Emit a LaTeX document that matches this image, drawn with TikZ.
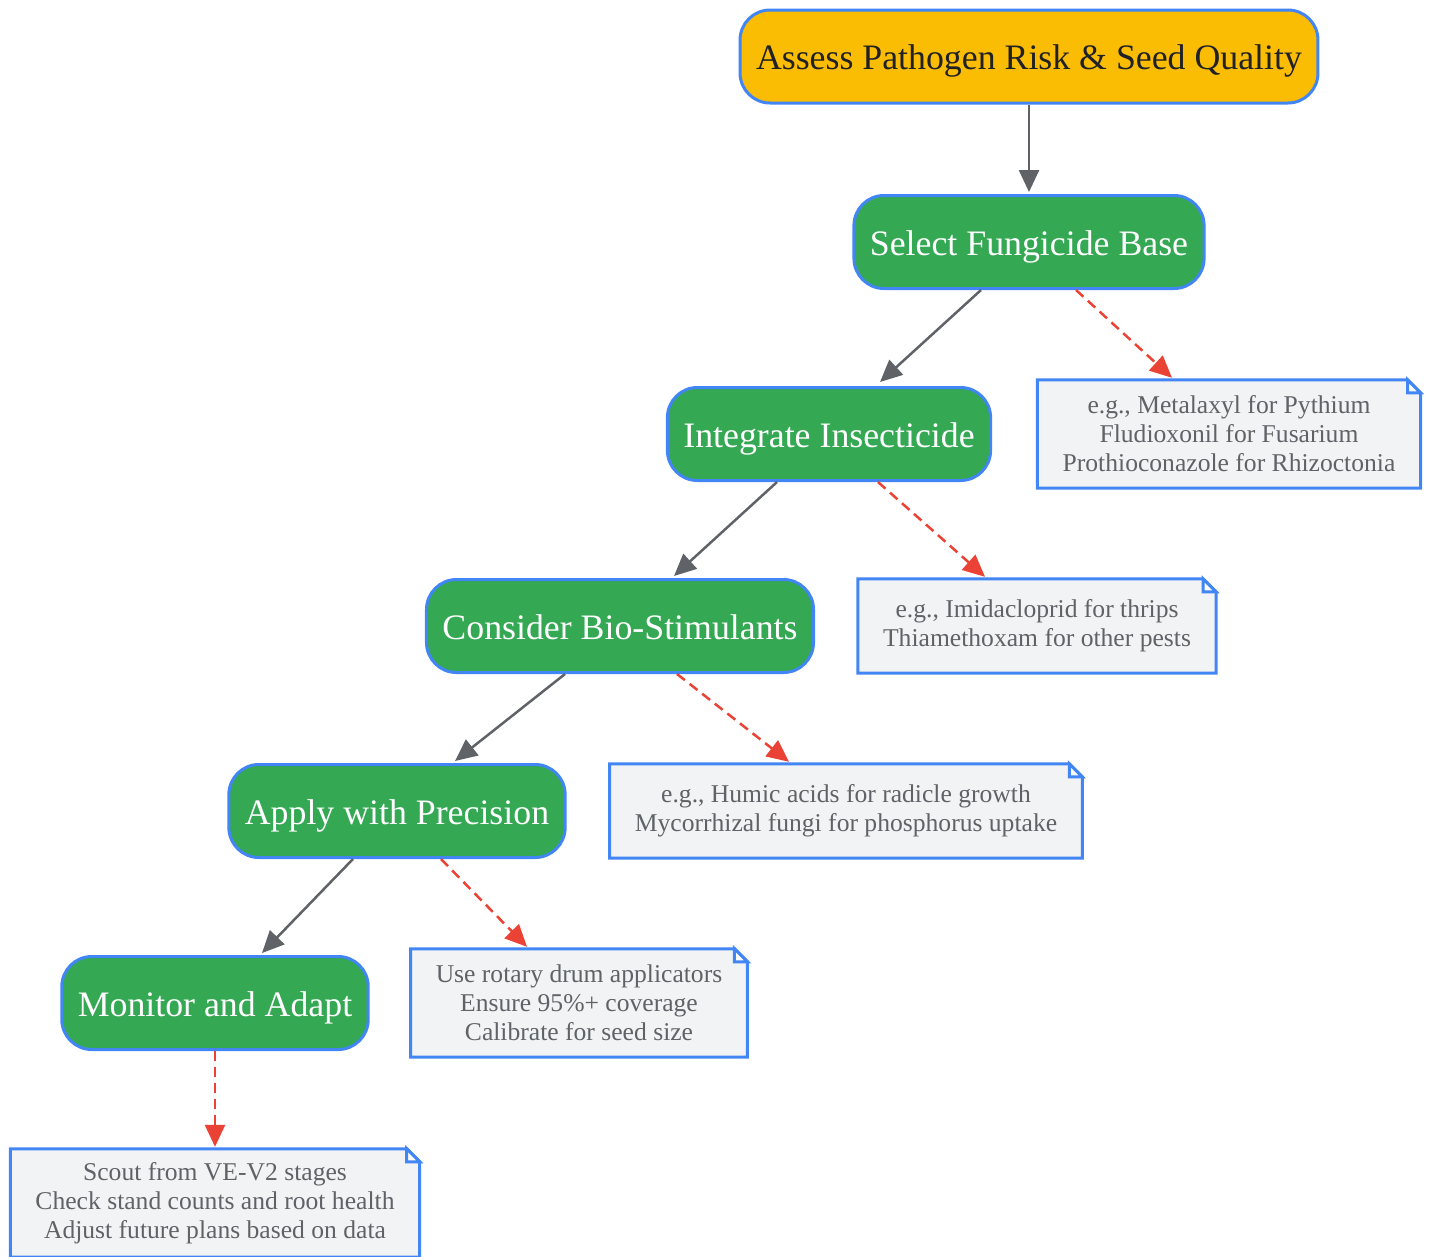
\documentclass[tikz,border=0pt]{standalone}
\usepackage{fontspec}
\setmainfont{Liberation Serif}
\usetikzlibrary{arrows.meta}

\pgfdeclarelayer{background}
\pgfsetlayers{background,main}

\definecolor{edgeblue}{HTML}{4285F4}
\definecolor{startyellow}{HTML}{FBBC04}
\definecolor{stepgreen}{HTML}{34A853}
\definecolor{flowgray}{HTML}{5F6368}
\definecolor{hintred}{HTML}{EA4335}
\definecolor{notefill}{HTML}{F1F3F4}
\definecolor{darktext}{HTML}{202124}

\tikzset{
  stepbox/.style={rounded corners=30pt, draw=edgeblue, line width=3pt, fill=stepgreen,
    text=white, font=\fontsize{35.8}{42}\selectfont, minimum height=93pt, inner xsep=16pt,
    text height=34pt, text depth=8pt},
  startbox/.style={stepbox, fill=startyellow, text=darktext},
  notebox/.style={align=center, text=flowgray, font=\fontsize{25.6}{29}\selectfont,
    minimum height=94pt, inner xsep=25pt, inner ysep=10pt},
  tallnote/.style={notebox, minimum height=108pt},
  noteline/.style={draw=edgeblue, line width=3pt},
  flow/.style={line width=2.5pt, draw=flowgray, -{Triangle[length=22pt,width=20pt]}},
  hint/.style={line width=2.5pt, draw=hintred, dash pattern=on 10pt off 6pt,
    -{Triangle[length=22pt,width=20pt]}},
}

\begin{document}
\begin{tikzpicture}[x=1pt, y=-1pt]
      \useasboundingbox (0, 0) rectangle (1431, 1256);

      % main steps
      \node[startbox] (assess) at (1029, 56.5) {Assess Pathogen Risk \& Seed Quality};
      \node[stepbox] (fungi) at (1029, 242) {Select Fungicide Base};
      \node[stepbox] (insect) at (829, 434) {Integrate Insecticide};
      \node[stepbox] (bio) at (620, 626) {Consider Bio-Stimulants};
      \node[stepbox] (apply) at (397, 811) {Apply with Precision};
      \node[stepbox] (monitor) at (215, 1003) {Monitor and Adapt};

      % notes
      \node[tallnote] (fungnote) at (1229, 434) {e.g., Metalaxyl for Pythium\\Fludioxonil for Fusarium\\Prothioconazole for Rhizoctonia};
      \node[notebox] (insnote) at (1037, 626) {e.g., Imidacloprid for thrips\\Thiamethoxam for other pests};
      \node[notebox] (bionote) at (846, 811) {e.g., Humic acids for radicle growth\\Mycorrhizal fungi for phosphorus uptake};
      \node[tallnote] (appnote) at (579, 1003) {Use rotary drum applicators\\Ensure 95\%+ coverage\\Calibrate for seed size};
      \node[tallnote] (monnote) at (215, 1203) {Scout from VE-V2 stages\\Check stand counts and root health\\Adjust future plans based on data};

      \begin{pgfonlayer}{background}
        \foreach \n in {fungnote, insnote, bionote, appnote, monnote} {
          \filldraw[noteline, fill=notefill] (\n.south west) -- (\n.north west)
            -- ([xshift=-13pt]\n.north east) -- ([yshift=-13pt]\n.north east)
            -- (\n.south east) -- cycle;
          \draw[noteline, fill=white] ([xshift=-13pt]\n.north east) |- ([yshift=-13pt]\n.north east) -- cycle;
        }
      \end{pgfonlayer}

      % connectors
      \draw[flow] (assess.south) -- ([yshift=2pt]fungi.north);
      \draw[flow] ([xshift=-48pt]fungi.south) -- ([xshift=51pt, yshift=4pt]insect.north);
      \draw[hint] ([xshift=47pt]fungi.south) -- ([xshift=-57pt, yshift=2pt]fungnote.north);
      \draw[flow] ([xshift=-52pt]insect.south) -- ([xshift=54pt, yshift=2pt]bio.north);
      \draw[hint] ([xshift=49pt]insect.south) -- ([xshift=-52pt, yshift=2pt]insnote.north);
      \draw[flow] ([xshift=-55pt]bio.south) -- ([xshift=58pt, yshift=2pt]apply.north);
      \draw[hint] ([xshift=57pt]bio.south) -- ([xshift=-57pt, yshift=2pt]bionote.north);
      \draw[flow] ([xshift=-44pt]apply.south) -- ([xshift=47pt, yshift=2pt]monitor.north);
      \draw[hint] ([xshift=44pt]apply.south) -- ([xshift=-52pt, yshift=2pt]appnote.north);
      \draw[hint] (monitor.south) -- ([yshift=2pt]monnote.north);
    \end{tikzpicture}
\end{document}
